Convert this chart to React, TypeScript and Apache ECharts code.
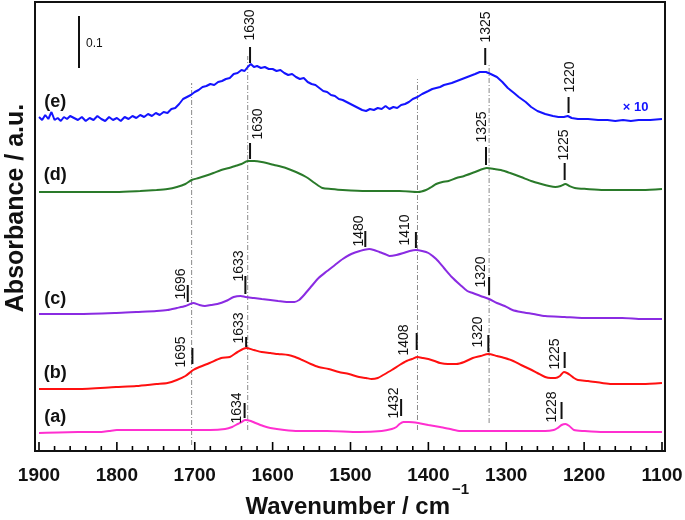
import React, { useEffect, useRef } from "react";
import * as echarts from "echarts";

const FONT = "'Liberation Sans', Arial, Helvetica, sans-serif";

// x axis (wavenumber, cm-1)
const xMin = 1100;
const xMax = 1900;
const xStep = 100;
const xMinorStep = 20;

// spectra: [wavenumber, absorbance (arbitrary units incl. vertical offset)]
const specA: number[][] = [
  [1900,18],[1850,19],[1820,19],[1810,20],[1800,21],[1760,21],[1707,21],[1680,21],[1661,22],[1652,24],[1645,27],[1640,29],[1635,31],[1628,30],[1622,28],[1612,25],[1603,23],[1585,21],[1567,20],[1530,20],[1489,19],[1460,20],[1447,22],[1441,24],[1437,27],[1432,29],[1425,29],[1413,28],[1400,26],[1385,24],[1372,22],[1359,20],[1320,20],[1281,20],[1250,20],[1239,21],[1234,23],[1229,26],[1224,27],[1219,25],[1213,21],[1200,20],[1175,19],[1151,19],[1125,19],[1100,19]
];
const specB: number[][] = [
  [1900,62],[1850,62],[1801,64],[1775,65],[1749,67],[1735,68],[1723,71],[1712,75],[1702,81],[1694,84],[1681,88],[1666,93],[1655,94],[1645,99],[1634,103],[1624,101],[1614,99],[1603,98],[1593,97],[1580,96],[1571,94],[1562,91],[1551,87],[1541,84],[1528,82],[1515,79],[1502,77],[1489,74],[1480,73],[1473,72],[1465,73],[1458,76],[1447,81],[1437,86],[1428,90],[1421,92],[1414,94],[1407,93],[1400,92],[1392,90],[1385,88],[1375,87],[1364,87],[1354,89],[1343,93],[1333,95],[1323,97],[1312,95],[1302,93],[1291,90],[1281,86],[1270,82],[1260,78],[1250,74],[1243,73],[1237,73],[1231,75],[1226,79],[1222,78],[1218,76],[1213,73],[1208,71],[1195,70],[1177,68],[1165,67],[1151,67],[1125,67],[1100,68]
];
const specC: number[][] = [
  [1900,137],[1850,137],[1801,138],[1775,139],[1749,140],[1735,141],[1723,143],[1712,145],[1702,148],[1694,146],[1687,145],[1679,146],[1671,147],[1660,150],[1650,154],[1641,155],[1635,154],[1624,153],[1614,152],[1603,151],[1593,150],[1582,149],[1572,149],[1566,151],[1562,154],[1552,163],[1541,173],[1530,180],[1520,186],[1510,192],[1499,197],[1488,200],[1476,202],[1470,201],[1463,199],[1456,197],[1450,195],[1441,196],[1432,198],[1424,200],[1416,201],[1408,200],[1400,198],[1390,192],[1380,183],[1370,174],[1359,166],[1350,160],[1343,158],[1333,155],[1322,152],[1312,148],[1302,145],[1292,141],[1281,139],[1265,137],[1250,135],[1225,134],[1203,133],[1175,133],[1151,133],[1125,132],[1100,132]
];
const specD: number[][] = [
  [1900,259],[1850,259],[1801,259],[1770,260],[1749,261],[1735,262],[1723,264],[1712,267],[1704,271],[1695,273],[1687,275],[1676,278],[1666,281],[1656,283],[1648,285],[1640,287],[1632,290],[1624,290],[1614,289],[1598,286],[1583,283],[1570,279],[1557,274],[1546,268],[1536,263],[1525,262],[1510,261],[1480,260],[1450,260],[1437,260],[1413,259],[1403,261],[1396,264],[1390,267],[1382,269],[1374,270],[1364,273],[1354,275],[1340,279],[1325,283],[1315,282],[1307,281],[1295,278],[1281,274],[1268,270],[1255,267],[1245,265],[1237,264],[1230,265],[1224,267],[1219,265],[1212,263],[1197,262],[1175,261],[1151,261],[1125,261],[1100,262]
];
const specE: number[][] = [
  [1900,334],[1896,331],[1892,336],[1888,332],[1884,339],[1880,331],[1876,333],[1872,330],[1868,334],[1864,332],[1860,335],[1855,333],[1850,331],[1845,334],[1840,330],[1835,333],[1830,331],[1825,335],[1820,332],[1815,330],[1810,334],[1805,331],[1800,333],[1795,330],[1790,334],[1785,332],[1780,335],[1775,333],[1770,336],[1765,334],[1760,337],[1755,335],[1750,338],[1745,336],[1740,339],[1735,338],[1730,342],[1725,343],[1720,347],[1715,352],[1710,354],[1705,356],[1700,359],[1695,361],[1690,364],[1685,365],[1680,367],[1675,366],[1670,369],[1665,370],[1660,372],[1655,373],[1650,377],[1645,378],[1640,381],[1636,380],[1632,384],[1628,387],[1624,384],[1620,385],[1615,383],[1610,384],[1605,382],[1600,382],[1595,380],[1590,381],[1585,378],[1580,376],[1575,377],[1570,374],[1565,372],[1560,373],[1555,369],[1550,367],[1545,366],[1540,363],[1535,360],[1530,359],[1525,356],[1520,355],[1515,352],[1510,351],[1505,349],[1500,347],[1495,345],[1490,343],[1485,341],[1480,340],[1475,342],[1470,341],[1465,343],[1460,342],[1455,345],[1450,342],[1445,344],[1440,343],[1435,346],[1430,347],[1425,349],[1420,352],[1414,354],[1408,357],[1400,360],[1395,362],[1390,363],[1385,364],[1380,366],[1370,368],[1360,371],[1350,374],[1340,377],[1334,379],[1326,379],[1320,377],[1312,374],[1305,369],[1298,363],[1290,358],[1284,354],[1275,349],[1268,344],[1260,340],[1250,337],[1240,335],[1233,334],[1226,334],[1221,335],[1216,333],[1208,332],[1195,332],[1182,331],[1170,331],[1160,330],[1150,331],[1140,330],[1130,331],[1115,331],[1100,332]
];

const spectrumNames = ["(a)", "(b)", "(c)", "(d)", "(e)"];
const spectrumColors = ["#ff2fd0", "#ff1010", "#8a2be2", "#2a7a2a", "#1414ff"];
// label anchor for each spectrum name: [wavenumber, value]
const spectrumNamePos: number[][] = [[1879, 35], [1879, 79], [1879, 153], [1879, 277], [1879, 350]];

// vertical guide lines: [wavenumber, from, to]
const guideLines: number[][] = [[1704, 6, 368], [1632, 21, 395], [1414, 21, 372], [1322, 28, 388]];

// peak annotations
const peakLabels = ["1630", "1325", "1220", "1630", "1325", "1225", "1696", "1633", "1480", "1410", "1320", "1695", "1633", "1408", "1320", "1225", "1634", "1432", "1228"];
// marker tick: [wavenumber, from, to]
const peakTicks: number[][] = [
  [1629, 388, 404], [1327, 386, 403], [1220, 338, 354],
  [1629, 292, 308], [1326, 286, 304], [1225, 271, 288],
  [1709, 149, 166], [1635, 157, 175], [1481, 204, 220], [1416, 203, 219], [1322, 156, 174],
  [1703, 87, 103], [1634, 104, 114], [1415, 101, 118], [1323, 99, 116], [1225, 83, 99],
  [1636, 33, 48], [1435, 35, 52], [1229, 32, 49]
];
// text centre: [wavenumber, value]
const peakTextPos: number[][] = [
  [1630, 426], [1327, 424], [1219, 374],
  [1620, 327], [1332, 324], [1227, 306],
  [1719, 167], [1645, 185], [1491, 220], [1431, 221], [1334, 179],
  [1719, 99], [1644, 123], [1433, 111], [1338, 119], [1239, 97],
  [1647, 43], [1446, 48], [1242, 44]
];

const scaleNote = "× 10";
const scaleNotePos = [1134, 345];

export default function App() {
  const ref = useRef<HTMLDivElement>(null);
  useEffect(() => {
    if (!ref.current) return;
    const chart = echarts.init(ref.current, undefined, { renderer: "svg" });
    const specs = [specA, specB, specC, specD, specE];
    const lineSeries = specs.map((d, i) => ({
      type: "line",
      data: d,
      showSymbol: false,
      smooth: i === 4 ? false : 0.25,
      lineStyle: { color: spectrumColors[i], width: 2 },
      z: 3,
    }));
    // axis tick positions (bottom axis, pointing inward)
    const minorTicks: number[][] = [];
    const majorTicks: number[][] = [];
    for (let v = xMin; v <= xMax; v += xMinorStep) {
      if ((v - xMin) % xStep === 0) majorTicks.push([v, 0, 9]);
      else minorTicks.push([v, 0, 5]);
    }
    const tickSeries = (data: number[][]) => ({
      type: "custom",
      data,
      encode: { x: 0, y: [1, 2] },
      clip: false,
      silent: true,
      z: 6,
      renderItem: (params: any, api: any) => {
        const a = api.coord([api.value(0), api.value(1)]);
        const len = api.value(2);
        return {
          type: "rect",
          shape: { x: a[0] - 0.8, y: a[1] - len, width: 1.6, height: len },
          style: { fill: "#000" },
        };
      },
    });
    const option: any = {
      animation: false,
      grid: { left: 39, top: 2, width: 623, height: 449, outerBoundsMode: "none" },
      xAxis: {
        type: "value",
        min: xMin,
        max: xMax,
        interval: xStep,
        inverse: true,
        axisLine: { show: true, lineStyle: { color: "#111", width: 2 } },
        axisTick: { show: false },
        minorTick: { show: false },
        splitLine: { show: false },
        axisLabel: {
          color: "#111",
          fontSize: 19,
          fontWeight: "bold",
          fontFamily: FONT,
          margin: 14,
          formatter: (v: number) => String(v),
        },
      },
      yAxis: { type: "value", min: 0, max: 449, show: false },
      series: [
        tickSeries(majorTicks),
        tickSeries(minorTicks),
        {
          type: "custom",
          data: guideLines,
          encode: { x: 0, y: [1, 2] },
          clip: false,
          z: 1,
          renderItem: (params: any, api: any) => {
            const a = api.coord([api.value(0), api.value(1)]);
            const b = api.coord([api.value(0), api.value(2)]);
            return {
              type: "line",
              shape: { x1: a[0], y1: a[1], x2: b[0], y2: b[1] },
              style: { stroke: "#8a8a8a", lineWidth: 1, lineDash: [5, 2, 1, 2] },
            };
          },
        },
        ...lineSeries,
        {
          type: "custom",
          data: peakTicks.map((t, i) => [t[0], t[1], t[2], peakTextPos[i][0], peakTextPos[i][1]]),
          encode: { x: 0, y: [1, 2] },
          clip: false,
          z: 4,
          renderItem: (params: any, api: any) => {
            const a = api.coord([api.value(0), api.value(1)]);
            const b = api.coord([api.value(0), api.value(2)]);
            const t = api.coord([api.value(3), api.value(4)]);
            return {
              type: "group",
              children: [
                {
                  type: "line",
                  shape: { x1: a[0], y1: a[1], x2: b[0], y2: b[1] },
                  style: { stroke: "#111", lineWidth: 2 },
                },
                {
                  type: "text",
                  x: t[0],
                  y: t[1],
                  rotation: Math.PI / 2,
                  style: {
                    text: peakLabels[params.dataIndex],
                    fill: "#111",
                    fontSize: 14,
                    fontFamily: FONT,
                    align: "center",
                    verticalAlign: "middle",
                  },
                },
              ],
            };
          },
        },
        {
          type: "custom",
          data: spectrumNamePos.map((p) => [p[0], p[1]]),
          encode: { x: 0, y: 1 },
          clip: false,
          z: 4,
          renderItem: (params: any, api: any) => {
            const t = api.coord([api.value(0), api.value(1)]);
            return {
              type: "text",
              x: t[0],
              y: t[1],
              style: {
                text: spectrumNames[params.dataIndex],
                fill: "#111",
                fontSize: 18,
                fontWeight: "bold",
                fontFamily: FONT,
                align: "center",
                verticalAlign: "middle",
              },
            };
          },
        },
        {
          type: "custom",
          data: [scaleNotePos],
          encode: { x: 0, y: 1 },
          clip: false,
          z: 4,
          renderItem: (params: any, api: any) => {
            const t = api.coord([api.value(0), api.value(1)]);
            return {
              type: "text",
              x: t[0],
              y: t[1],
              style: {
                text: scaleNote,
                fill: "#1414ff",
                fontSize: 13,
                fontWeight: "bold",
                fontFamily: FONT,
                align: "center",
                verticalAlign: "middle",
              },
            };
          },
        },
      ],
      graphic: [
        {
          type: "rect",
          shape: { x: 35, y: 2, width: 630, height: 449 },
          style: { fill: "none", stroke: "#111", lineWidth: 2 },
          z: 10,
        },
        {
          type: "line",
          shape: { x1: 79, y1: 16, x2: 79, y2: 68 },
          style: { stroke: "#111", lineWidth: 2 },
        },
        {
          type: "text",
          x: 86,
          y: 43,
          style: { text: "0.1", fill: "#111", fontSize: 12, fontFamily: FONT, verticalAlign: "middle", align: "left" },
        },
        {
          type: "text",
          x: 450,
          y: 505,
          style: { text: "Wavenumber / cm", fill: "#111", fontSize: 24, fontWeight: "bold", fontFamily: FONT, align: "right", verticalAlign: "middle" },
        },
        {
          type: "text",
          x: 452,
          y: 488,
          style: { text: "−1", fill: "#111", fontSize: 15, fontWeight: "bold", fontFamily: FONT, align: "left", verticalAlign: "middle" },
        },
        {
          type: "text",
          x: 14,
          y: 208,
          rotation: Math.PI / 2,
          style: { text: "Absorbance / a.u.", fill: "#111", fontSize: 25, fontWeight: "bold", fontFamily: FONT, align: "center", verticalAlign: "middle" },
        },
      ],
    };
    chart.setOption(option);
    return () => chart.dispose();
  }, []);
  return <div ref={ref} style={{ position: "fixed", left: 0, top: 0, width: 685, height: 520 }} />;
}
